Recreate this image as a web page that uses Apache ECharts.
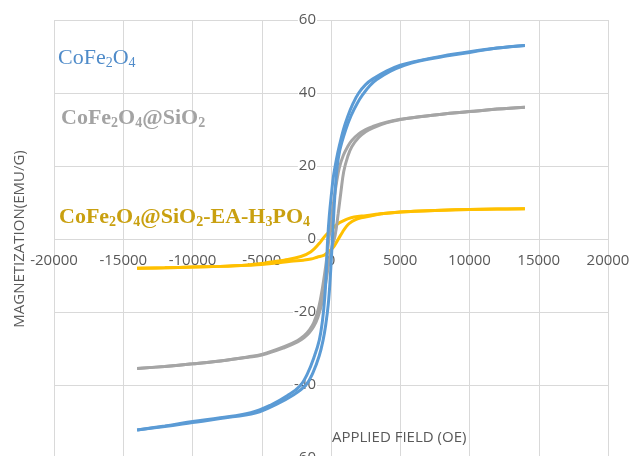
<!DOCTYPE html>
<html>
<head>
<meta charset="utf-8">
<script src="https://cdn.jsdelivr.net/npm/echarts@6/dist/echarts.min.js"></script>
<style>
html,body{margin:0;padding:0;background:#fff;}
#chart{width:632px;height:456px;}
</style>
</head>
<body>
<div id="chart"></div>
<script>
// X ticks and Y ticks
const xTicks = [-20000, -15000, -10000, -5000, 0, 5000, 10000, 15000, 20000];
const yTicks = [-60, -40, -20, 0, 20, 40, 60];

// CoFe2O4 hysteresis loop: descending (upper) and ascending (lower) branches [field Oe, emu/g]
const cofeDown = [[14000,53.0],[12000,52.3],[10000,51.3],[8000,50.1],[6000,48.6],[5000,47.6],[4000,46.0],[3000,43.8],[2500,42.3],[2000,40.0],[1600,37.2],[1200,33.5],[900,30.0],[600,25.5],[400,22.0],[170,17.0],[50,13.0],[-120,6.5],[-240,0],[-330,-8.0],[-450,-16.0],[-620,-22.5],[-845,-27.7],[-1208,-32.2],[-1690,-36.8],[-2224,-40.2],[-3140,-42.9],[-4348,-45.5],[-5800,-47.6],[-8000,-49.0],[-10000,-50.0],[-12000,-51.2],[-14000,-52.3]];
const cofeUp = [[-14000,-52.3],[-12000,-51.4],[-10000,-50.3],[-8000,-49.2],[-5400,-47.6],[-3950,-45.3],[-2750,-42.8],[-1812,-40.0],[-1300,-36.6],[-850,-32.0],[-560,-27.5],[-380,-23.5],[-200,-18.0],[-60,-11.0],[60,-3.0],[160,4.0],[280,12.0],[435,19.5],[640,24.4],[1050,29.8],[1450,33.8],[1900,37.2],[2300,39.6],[2800,42.0],[3300,43.7],[4300,46.0],[5300,47.6],[6300,48.7],[8300,50.1],[10300,51.3],[12000,52.3],[14000,53.0]];

// CoFe2O4@SiO2
const sioDown = [[14000,36.1],[12000,35.6],[10000,34.9],[8000,34.2],[6000,33.3],[5000,32.8],[4000,32.0],[3000,30.8],[2500,30.0],[2000,28.8],[1500,27.0],[1200,25.3],[900,23.0],[600,19.5],[400,15.5],[200,10.5],[0,4.5],[-150,0],[-350,-6.5],[-600,-13.0],[-900,-19.0],[-1250,-23.0],[-1570,-25.0],[-1935,-26.5],[-2415,-27.8],[-3384,-29.5],[-5000,-31.6],[-6000,-32.3],[-8000,-33.4],[-10000,-34.2],[-12000,-34.9],[-14000,-35.5]];
const sioUp = [[-14000,-35.5],[-12000,-34.9],[-10000,-34.2],[-8000,-33.4],[-6000,-32.4],[-5000,-31.8],[-3384,-29.8],[-2415,-28.2],[-1935,-27.0],[-1570,-25.7],[-1250,-24.0],[-950,-21.5],[-650,-17.5],[-400,-12.5],[-150,-6.5],[80,-2.0],[300,1.0],[520,7.0],[720,13.0],[920,18.5],[1200,22.5],[1500,25.3],[2000,27.8],[2500,29.4],[3000,30.4],[4000,31.8],[5000,32.7],[6000,33.3],[8000,34.2],[10000,34.9],[12000,35.6],[14000,36.1]];

// CoFe2O4@SiO2-EA-H3PO4
const eaDown = [[14000,8.3],[12000,8.2],[10000,8.1],[8000,7.9],[6000,7.6],[5000,7.4],[3623,6.9],[2500,6.4],[1667,6.0],[1200,5.5],[848,4.9],[500,4.2],[239,3.4],[0,2.3],[-362,1.1],[-600,0],[-847,-1.2],[-1449,-3.5],[-2174,-4.8],[-3384,-5.8],[-4348,-6.3],[-5000,-6.7],[-6000,-7.1],[-8000,-7.5],[-10000,-7.7],[-12000,-7.9],[-14000,-8.0]];
const eaUp = [[-14000,-8.0],[-12000,-7.9],[-10000,-7.7],[-8000,-7.5],[-6000,-7.2],[-5000,-7.0],[-4000,-6.6],[-2898,-6.1],[-2000,-5.8],[-1449,-5.5],[-1000,-5.0],[-485,-4.4],[-200,-3.5],[123,-2.5],[485,-0.3],[848,2.0],[1100,3.4],[1326,4.3],[1700,5.2],[2174,5.8],[3000,6.4],[3623,6.9],[5000,7.4],[6000,7.6],[8000,7.9],[10000,8.1],[12000,8.2],[14000,8.3]];

const BLUE = '#5B9BD5', GRAY = '#A5A5A5', GOLD = '#FFC000';
const axisFont = '"Open Sans", "Liberation Sans", sans-serif';

const chart = echarts.init(document.getElementById('chart'));

function branch(name, data, color) {
  return {
    name: name, type: 'line', data: data, showSymbol: false, symbol: 'none',
    smooth: 0.4,
    lineStyle: { color: color, width: 3 }, itemStyle: { color: color },
    animation: false
  };
}

const subRich = function (color, weight) {
  return {
    s: { fontSize: 14, lineHeight: 12, verticalAlign: 'bottom', fontFamily: '"Liberation Serif", serif', fontWeight: weight, fill: color }
  };
};

chart.setOption({
  animation: false,
  grid: { left: 54, right: 24, top: 20, height: 438, containLabel: false, outerBoundsMode: 'none' },
  xAxis: {
    type: 'value', min: xTicks[0], max: xTicks[xTicks.length - 1], interval: 5000,
    position: 'bottom', offset: -219,
    axisLine: { show: false, onZero: false },
    axisTick: { show: false },
    splitLine: { show: true, lineStyle: { color: '#D9D9D9', width: 1 } },
    axisLabel: { color: '#595959', fontSize: 15, fontFamily: axisFont, margin: 14, showMinLabel: true, showMaxLabel: true,
      formatter: function (v) { return String(v); } }
  },
  yAxis: {
    type: 'value', min: yTicks[0], max: yTicks[yTicks.length - 1], interval: 20,
    position: 'left', offset: -276,
    axisLine: { show: false, onZero: false },
    axisTick: { show: false },
    splitLine: { show: true, lineStyle: { color: '#D9D9D9', width: 1 } },
    axisLabel: { color: '#595959', fontSize: 15, fontFamily: axisFont, margin: 13, showMinLabel: true, showMaxLabel: true,
      backgroundColor: '#fff', padding: [0, 1, 0, 1], formatter: function (v) { return String(v); } }
  },
  series: [
    branch('CoFe2O4@SiO2-EA-H3PO4', eaDown, GOLD),
    branch('CoFe2O4@SiO2-EA-H3PO4', eaUp, GOLD),
    branch('CoFe2O4@SiO2', sioDown, GRAY),
    branch('CoFe2O4@SiO2', sioUp, GRAY),
    branch('CoFe2O4', cofeDown, BLUE),
    branch('CoFe2O4', cofeUp, BLUE)
  ],
  graphic: [
    { type: 'text', x: 58, y: 58, z: 10, style: {
      text: 'CoFe{s|2}O{s|4}', font: '22px "Liberation Serif", serif', fill: '#4F8BC9',
      lineHeight: 24, verticalAlign: 'middle', align: 'left', rich: subRich('#4F8BC9', 'normal') } },
    { type: 'text', x: 61, y: 118, z: 10, style: {
      text: 'CoFe{s|2}O{s|4}@SiO{s|2}', font: 'bold 22px "Liberation Serif", serif', fill: '#A3A3A3',
      lineHeight: 24, verticalAlign: 'middle', align: 'left', rich: subRich('#A3A3A3', 'bold') } },
    { type: 'text', x: 59, y: 217, z: 10, style: {
      text: 'CoFe{s|2}O{s|4}@SiO{s|2}-EA-H{s|3}PO{s|4}', font: 'bold 22px "Liberation Serif", serif', fill: '#C9A010',
      lineHeight: 24, verticalAlign: 'middle', align: 'left', rich: subRich('#C9A010', 'bold') } },
    { type: 'text', x: 20, y: 239, rotation: Math.PI / 2, z: 10, style: {
      text: 'MAGNETIZATION(EMU/G)', font: '15px ' + axisFont, fill: '#595959', align: 'center', verticalAlign: 'middle' } },
    { type: 'text', x: 332, y: 438, z: 10, style: {
      text: 'APPLIED FIELD (OE)', font: '15px ' + axisFont, fill: '#595959', align: 'left', verticalAlign: 'middle' } }
  ]
});
</script>
</body>
</html>
